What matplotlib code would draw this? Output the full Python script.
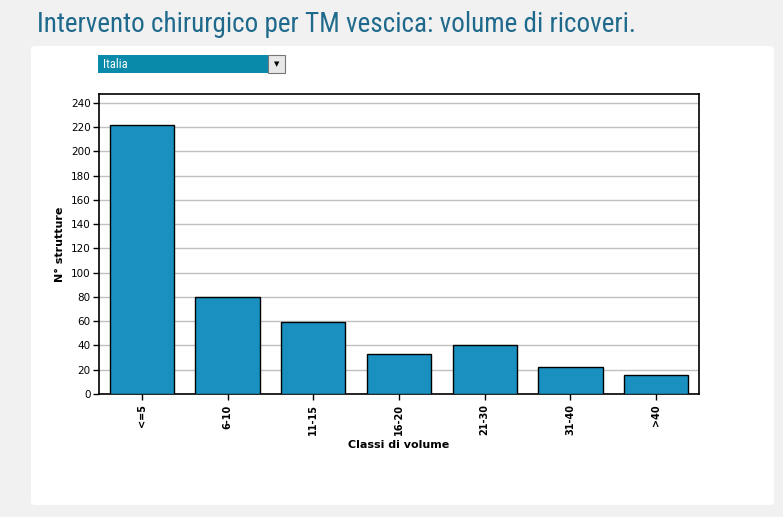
import matplotlib
matplotlib.use("Agg")
import matplotlib.pyplot as plt
from matplotlib.patches import FancyBboxPatch, Rectangle

categories = ["<=5", "6-10", "11-15", "16-20", "21-30", "31-40", ">40"]
n_strutture = [222, 80, 59, 33, 40, 22, 16]
yticks = list(range(0, 241, 20))

W, H = 783, 517
fig = plt.figure(figsize=(W / 100, H / 100), dpi=100)
fig.patch.set_facecolor("#f1f1f1")

def fx(x):
    return x / W

def fy(y):
    return 1 - y / H

# white panel
panel = FancyBboxPatch((fx(31), fy(505)), fx(774) - fx(31), fy(46) - fy(505),
                       boxstyle="round,pad=0,rounding_size=0.006",
                       transform=fig.transFigure, facecolor="white",
                       edgecolor="none", zorder=-5)
fig.patches.append(panel)

# title
fig.text(fx(37), fy(25), "Intervento chirurgico per TM vescica: volume di ricoveri.",
         fontsize=19.5, color="#1f6a8c", va="center", ha="left",
         family=["Roboto Condensed", "Roboto", "DejaVu Sans"])

# dropdown
fig.patches.append(Rectangle((fx(98), fy(73)), fx(268) - fx(98), fy(55) - fy(73),
                             transform=fig.transFigure, facecolor="#0a8aaa",
                             edgecolor="none"))
fig.patches.append(Rectangle((fx(268), fy(73)), fx(285) - fx(268), fy(55) - fy(73),
                             transform=fig.transFigure, facecolor="#e8e8e8",
                             edgecolor="#777777", linewidth=0.8))
fig.text(fx(103), fy(64), "Italia", fontsize=9, color="white", va="center",
         family=["Roboto Condensed", "Roboto", "DejaVu Sans"])
fig.text(fx(276.5), fy(64), "\u25BC", fontsize=5, color="black", va="center", ha="center")

# chart
ax = fig.add_axes([fx(99), fy(394), fx(699) - fx(99), fy(94) - fy(394)])
x = range(len(categories))
ax.bar(x, n_strutture, width=0.75, color="#1990c0", edgecolor="black",
       linewidth=1, zorder=3)
ax.set_xlim(-0.5, len(categories) - 0.5)
ax.set_ylim(0, 247.4)
ax.set_yticks(yticks)
ax.yaxis.grid(True, color="#c0c0c0", linewidth=1, zorder=0)
ax.set_xticks(list(x))
ax.set_xticklabels(categories, rotation=90, fontsize=7, fontweight="bold")
ax.tick_params(axis="y", labelsize=7.5, length=4, width=1, pad=2)
ax.tick_params(axis="x", length=4, width=1)
for s in ax.spines.values():
    s.set_linewidth(1.2)
ax.set_ylabel("N° strutture", fontsize=8, fontweight="bold", labelpad=4)
ax.set_xlabel("Classi di volume", fontsize=8, fontweight="bold", labelpad=3)

fig.savefig("out.png", dpi=100, facecolor=fig.get_facecolor())
